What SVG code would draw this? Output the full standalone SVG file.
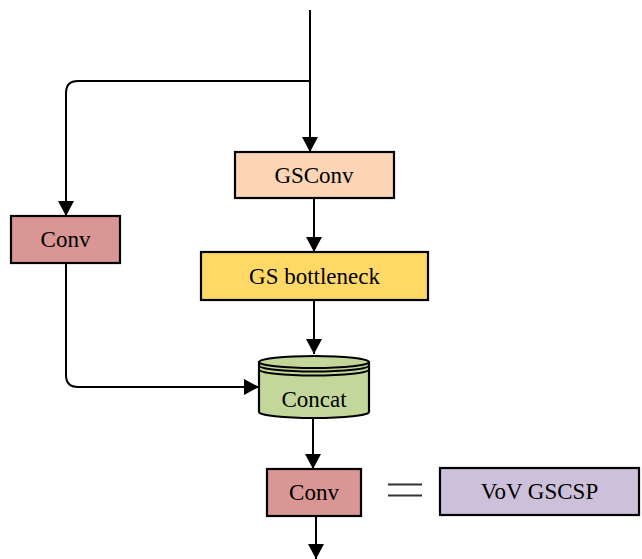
<svg xmlns="http://www.w3.org/2000/svg" width="642" height="559" viewBox="0 0 642 559">
  <style>
    .box { stroke: #000; stroke-width: 2.2; }
    .lbl { font-family: "Liberation Serif", "Times New Roman", serif; font-size: 23px; fill: #000; text-anchor: middle; dominant-baseline: central; }
    .wire { fill: none; stroke: #000; stroke-width: 2; }
  </style>
  <defs>
    <marker id="arrow" markerWidth="16" markerHeight="16" viewBox="0 0 16 16" refX="15" refY="8" orient="auto" markerUnits="userSpaceOnUse">
      <path d="M0,0 L15,8 L0,16 Z" fill="#000"/>
    </marker>
  </defs>
  <rect width="642" height="559" fill="#fff"/>

  <g id="connectors">
    <!-- input down to GSConv -->
    <path class="wire" d="M310,10 V152" marker-end="url(#arrow)"/>
    <!-- shortcut branch to the left Conv -->
    <path class="wire" d="M310,81 H78 Q66,81 66,93 V216" marker-end="url(#arrow)"/>
    <!-- GSConv to GS bottleneck -->
    <path class="wire" d="M314,198 V252" marker-end="url(#arrow)"/>
    <!-- GS bottleneck to Concat -->
    <path class="wire" d="M314,300 V354" marker-end="url(#arrow)"/>
    <!-- left Conv to Concat -->
    <path class="wire" d="M66,263 V375 Q66,387 78,387 H259" marker-end="url(#arrow)"/>
    <!-- Concat to Conv -->
    <path class="wire" d="M313,418 V469" marker-end="url(#arrow)"/>
    <!-- output -->
    <path class="wire" d="M316,516 V559" marker-end="url(#arrow)"/>
  </g>

  <g id="gsconv">
    <rect class="box" x="235" y="152" width="159" height="46" fill="#FBD5B5"/>
    <text class="lbl" x="314" y="175">GSConv</text>
  </g>

  <g id="conv-left">
    <rect class="box" x="11" y="216" width="109" height="47" fill="#D99694"/>
    <text class="lbl" x="65.5" y="239.5">Conv</text>
  </g>

  <g id="gs-bottleneck">
    <rect class="box" x="201" y="252" width="227" height="48" fill="#FFD966"/>
    <text class="lbl" x="314.5" y="276">GS bottleneck</text>
  </g>

  <g id="concat">
    <path class="box" d="M259,362 V412 A55,6 0 0 0 369,412 V362 Z" fill="#C4D79B"/>
    <ellipse class="box" cx="314" cy="362" rx="55" ry="6" fill="#C4D79B"/>
    <path class="wire" d="M259,365.5 A55,6 0 0 0 369,365.5" stroke-width="1.6"/>
    <path class="wire" d="M259,369.5 A55,6 0 0 0 369,369.5" stroke-width="1.6"/>
    <text class="lbl" x="314" y="399">Concat</text>
  </g>

  <g id="conv-out">
    <rect class="box" x="267" y="469" width="94" height="47" fill="#D99694"/>
    <text class="lbl" x="314" y="492.5">Conv</text>
  </g>

  <g id="equals">
    <path d="M388,484.5 H422 M388,495.5 H422" stroke="#333" stroke-width="2" fill="none"/>
  </g>

  <g id="vov-gscsp">
    <rect class="box" x="440" y="468" width="199" height="47" fill="#CCC0DA"/>
    <text class="lbl" x="539.5" y="491.5">VoV GSCSP</text>
  </g>
</svg>
